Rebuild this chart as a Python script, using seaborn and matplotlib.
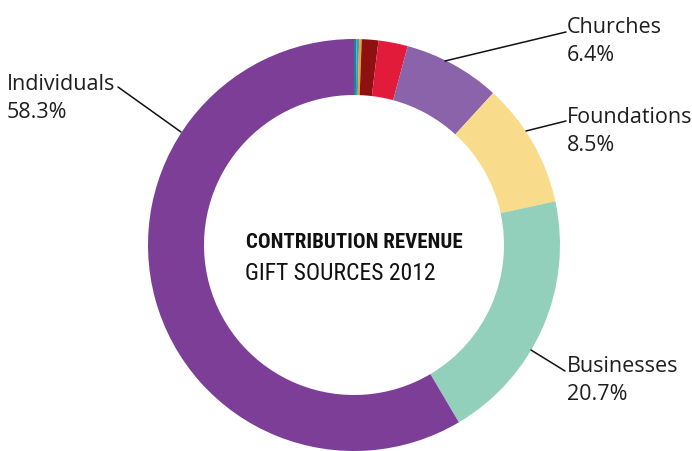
import matplotlib
matplotlib.use("Agg")
import matplotlib.pyplot as plt
import seaborn as sns
from matplotlib import font_manager

# Slice data (clockwise from 12 o'clock)
sources = ["Other A", "Other B", "Other C", "Other D", "Other E",
           "Churches", "Foundations", "Businesses", "Individuals"]
shares = [0.2, 0.2, 0.2, 1.3, 2.3, 7.6, 9.8, 19.9, 58.5]
colors = ["#14898C", "#3C9AD2", "#F4A11C", "#8E1010", "#E21B3B",
          "#8A63AB", "#F8DB8B", "#93D0BC", "#7C3E97"]

# Labels shown next to the ring
label_names = ["Individuals", "Churches", "Foundations", "Businesses"]
label_pcts = ["58.3%", "6.4%", "8.5%", "20.7%"]

sns.set_theme(style="white")

available = {f.name for f in font_manager.fontManager.ttflist}
label_font = [f for f in ["Open Sans", "Noto Sans", "DejaVu Sans"] if f in available]
title_font = [f for f in ["Liberation Sans Narrow", "DejaVu Sans Condensed",
                          "Roboto Condensed", "Open Sans Condensed"] if f in available]
narrow = len(title_font) > 0
if not narrow:
    title_font = ["Roboto", "DejaVu Sans"]
plt.rcParams["font.family"] = label_font

W, H = 692, 452
fig = plt.figure(figsize=(W / 100, H / 100), dpi=100)
ax = fig.add_axes([0, 0, 1, 1])

cx, cy, r_out, ring = 354, H - 246, 206, 56
ax.pie(shares, colors=colors, startangle=90, counterclock=False,
       center=(cx, cy), radius=r_out, frame=True,
       wedgeprops=dict(width=ring, linewidth=0))
ax.set_xlim(0, W)
ax.set_ylim(0, H)
ax.set_aspect("equal")
ax.axis("off")

# label text positions (pixel coords from top-left) and leader lines
label_xy = [(7, 90), (567, 33), (567, 123), (567, 372)]
leaders = [((118, 88), (181, 133)), ((566, 33), (445, 62)),
           ((566, 122), (526, 132)), ((565, 372), (531, 351))]

for name, pct, (x, y), (p0, p1) in zip(label_names, label_pcts, label_xy, leaders):
    ax.text(x, H - y, name, fontsize=15.5, color="#1e1e1e", ha="left", va="baseline")
    ax.text(x, H - y - 28, pct, fontsize=15.5, color="#1e1e1e", ha="left", va="baseline")
    ax.plot([p0[0], p1[0]], [H - p0[1], H - p1[1]], color="#111111", lw=1.1)

t_size = 15 if narrow else 11
ax.text(cx, H - 248, "CONTRIBUTION REVENUE", family=title_font, fontsize=t_size,
        fontweight="bold", color="#111111", ha="center", va="baseline")
ax.text(cx - 14, H - 280, "GIFT SOURCES 2012", family=title_font, fontsize=t_size + 2,
        color="#111111", ha="center", va="baseline")

fig.savefig("out.png", dpi=100)
